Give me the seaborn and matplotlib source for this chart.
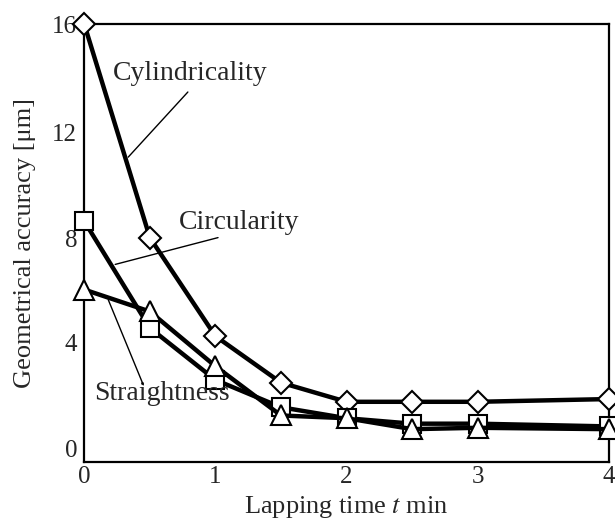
import numpy as np
import pandas as pd
import matplotlib
matplotlib.use('Agg')
import matplotlib.pyplot as plt
import matplotlib.transforms as mtransforms
import seaborn as sns

# Values
lap_time = [0, 0.5, 1, 1.5, 2, 2.5, 3, 4]
cylindricality = [16.0, 8.2, 4.6, 2.9, 2.2, 2.2, 2.2, 2.3]
circularity = [8.8, 4.9, 3.0, 2.0, 1.6, 1.4, 1.4, 1.3]
straightness = [6.3, 5.5, 3.5, 1.7, 1.6, 1.2, 1.25, 1.2]

series_names = ['Cylindricality', 'Circularity', 'Straightness']
x_ticks = [0, 1, 2, 3, 4]
y_ticks = [0, 4, 8, 12, 16]

df = pd.DataFrame({
    't': lap_time * 3,
    'value': cylindricality + circularity + straightness,
    'kind': np.repeat(series_names, len(lap_time)),
})

sns.set_style('white')
plt.rcParams['font.family'] = ['Liberation Serif', 'DejaVu Serif']
plt.rcParams['mathtext.fontset'] = 'stix'

fig = plt.figure(figsize=(6.15, 5.25), dpi=100)
ax = fig.add_axes([0.137, 0.12, 0.853, 0.834])

markers = {'Cylindricality': 'D', 'Circularity': 's', 'Straightness': '^'}
sizes = {'Cylindricality': 11, 'Circularity': 13, 'Straightness': 14}
for name in series_names:
    sub = df[df['kind'] == name]
    sns.lineplot(data=sub, x='t', y='value', ax=ax, color='black', lw=3.2,
                 marker=markers[name], markersize=sizes[name],
                 markerfacecolor='white', markeredgecolor='black',
                 markeredgewidth=1.5, legend=False, clip_on=False, zorder=3)

ax.set_xlim(0, 4)
ax.set_ylim(0, 16)
ax.set_xticks(x_ticks)
ax.set_yticks(y_ticks)
ax.tick_params(direction='in', length=4, width=0.8, color='#aaaaaa',
               labelsize=18)
ax.tick_params(axis='x', pad=3)
ax.tick_params(axis='y', pad=5)
# the y labels sit a little above their ticks, more so near the bottom
shift_up = [10, 7, 3, 1, 0]
for lab, dy in zip(ax.get_yticklabels(), shift_up):
    lab.set_transform(lab.get_transform() + mtransforms.ScaledTranslation(0, dy / 72, fig.dpi_scale_trans))
for s in ax.spines.values():
    s.set_color('black')
    s.set_linewidth(1.6)

ax.set_xlabel('Lapping time $\\it{t}$ min', fontsize=19, labelpad=4)
ax.set_ylabel('Geometrical accuracy [\u03bcm]', fontsize=19, labelpad=12)

# labels with thin leader lines
labels = {
    'Cylindricality': ((0.81, 13.95), (0.79, 13.52), (0.335, 11.14)),
    'Circularity': ((1.18, 8.5), (1.02, 8.2), (0.236, 7.22)),
    'Straightness': ((0.595, 2.25), (0.45, 2.82), (0.183, 5.93)),
}
for name, (txt, p0, p1) in labels.items():
    ax.text(txt[0], txt[1], name, fontsize=20, ha='center', va='baseline')
    ax.annotate('', xy=p1, xytext=p0,
                arrowprops=dict(arrowstyle='-', color='black', lw=1.0,
                                shrinkA=0, shrinkB=0))

fig.savefig('out.png', dpi=100)
